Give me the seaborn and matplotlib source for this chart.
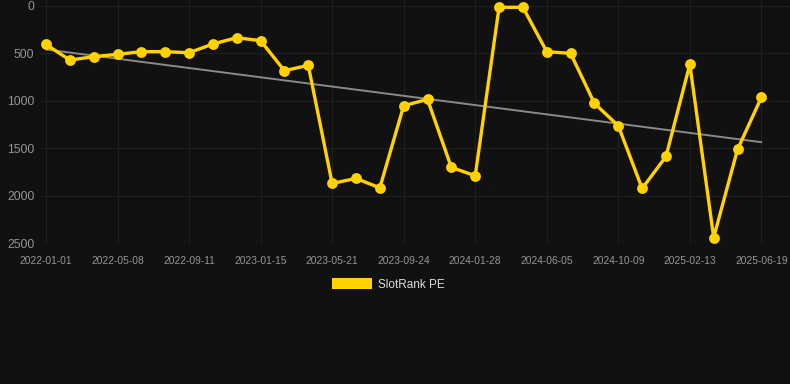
import matplotlib
matplotlib.use("Agg")
import matplotlib.pyplot as plt
from matplotlib.patches import Patch
import numpy as np
import pandas as pd
import seaborn as sns

# SlotRank PE, one point roughly every 42 days, labels on every 3rd point
rank_values = [404, 569, 534, 509, 481, 481, 492, 400, 334, 365,
               681, 625, 1868, 1815, 1914, 1050, 983, 1699, 1787, 14,
               14, 481, 499, 1025, 1261, 1921, 1584, 614, 2437, 1510, 962]
tick_labels = ["2022-01-01", "2022-05-08", "2022-09-11", "2023-01-15",
               "2023-05-21", "2023-09-24", "2024-01-28", "2024-06-05",
               "2024-10-09", "2025-02-13", "2025-06-19"]
y_ticks = [0, 500, 1000, 1500, 2000, 2500]
series_name = "SlotRank PE"

BG = "#111111"
YELLOW = "#FFD200"

sns.set_theme(style="dark")
plt.rcParams["font.family"] = ["Liberation Sans", "DejaVu Sans"]

df = pd.DataFrame({"idx": np.arange(len(rank_values)), "rank": rank_values})
slope, intercept = np.polyfit(df["idx"], df["rank"], 1)
df["trend"] = intercept + slope * df["idx"]

fig = plt.figure(figsize=(7.9, 3.84), dpi=100, facecolor=BG)
ax = fig.add_axes([40 / 790, 1 - 243.5 / 384, 750 / 790, 243.5 / 384])
ax.set_facecolor(BG)

sns.lineplot(data=df, x="idx", y="trend", ax=ax, color="#8a8a8a", linewidth=1.4)
sns.lineplot(data=df, x="idx", y="rank", ax=ax, color=YELLOW, linewidth=2.4,
             marker="o", markersize=7.8, markeredgewidth=0)

ax.set_xlim(-0.25, 31.2)
ax.set_ylim(2500, -63)
ax.set_yticks(y_ticks)
ax.set_xticks(np.arange(0, len(rank_values), 3))
ax.set_xticklabels(tick_labels)
ax.tick_params(axis="y", labelsize=8.8, colors="#959595", length=0, pad=4)
ax.tick_params(axis="x", labelsize=7.4, colors="#959595", length=0, pad=9)
ax.grid(True, color="#1f1f1f", linewidth=0.8)
ax.set_axisbelow(True)
ax.set_xlabel("")
ax.set_ylabel("")
for s in ax.spines.values():
    s.set_visible(False)

handles = [Patch(facecolor=YELLOW, edgecolor="none", label=series_name)]
fig.legend(handles=handles, loc="center", bbox_to_anchor=(0.492, 1 - 284.5 / 384),
           frameon=False, fontsize=8.5, labelcolor="#dddddd",
           handlelength=3.4, handleheight=0.95, handletextpad=0.5)

fig.savefig("out.png", dpi=100, facecolor=BG)
